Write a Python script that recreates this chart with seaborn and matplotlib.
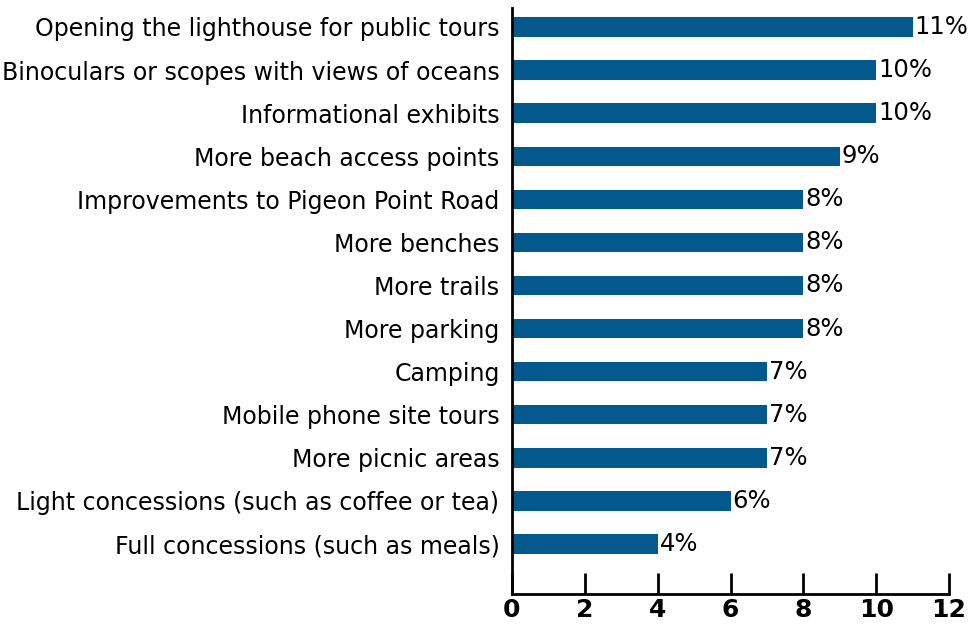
import matplotlib
matplotlib.use("Agg")
import matplotlib.pyplot as plt
import seaborn as sns
import pandas as pd

categories = [
    "Opening the lighthouse for public tours",
    "Binoculars or scopes with views of oceans",
    "Informational exhibits",
    "More beach access points",
    "Improvements to Pigeon Point Road",
    "More benches",
    "More trails",
    "More parking",
    "Camping",
    "Mobile phone site tours",
    "More picnic areas",
    "Light concessions (such as coffee or tea)",
    "Full concessions (such as meals)",
]
values = [11, 10, 10, 9, 8, 8, 8, 8, 7, 7, 7, 6, 4]
x_ticks = [0, 2, 4, 6, 8, 10, 12]

df = pd.DataFrame({"cat": categories, "val": values})

sns.set_theme(style="white")
plt.rcParams["font.family"] = ["DejaVu Sans"]

fig = plt.figure(figsize=(9.76, 6.24), dpi=100)
ax = fig.add_axes([512/976, 1-594/624, (949-512)/976, (594-8)/624])

sns.barplot(data=df, x="val", y="cat", orient="h", color="#03598C",
            saturation=1, width=0.45, linewidth=0, ax=ax)

for i, v in enumerate(values):
    ax.text(v + 0.06, i, f"{v}%", va="center", ha="left", fontsize=17.5, color="black")

ax.set_xlim(0, 12)
ax.set_ylim(len(categories) - 1 + 1.16, -0.44)
ax.set_xticks(x_ticks)
ax.set_xticklabels([str(t) for t in x_ticks], fontsize=18, fontweight="bold", color="black")
ax.tick_params(axis="x", direction="in", length=15, width=2, pad=3, bottom=True, colors="black")
ax.tick_params(axis="y", length=0, labelsize=17, pad=9, colors="black")
ax.set_xlabel("")
ax.set_ylabel("")
for s in ["top", "right"]:
    ax.spines[s].set_visible(False)
for s in ["left", "bottom"]:
    ax.spines[s].set_visible(True)
    ax.spines[s].set_linewidth(2)
    ax.spines[s].set_color("black")

fig.savefig("out.png", dpi=100)
